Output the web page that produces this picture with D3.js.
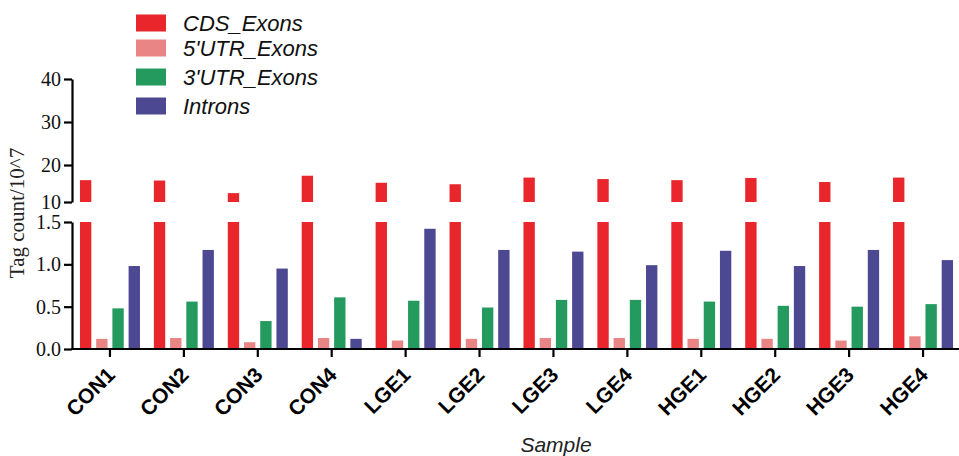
<!DOCTYPE html>
<html>
<head>
<meta charset="utf-8">
<script src="https://cdn.jsdelivr.net/npm/d3@7"></script>
<style>
  html, body { margin: 0; padding: 0; background: #fff; }
  svg { display: block; }
</style>
</head>
<body>
<svg id="chart" width="959" height="456"></svg>
<script>
// ---------- data ----------
const samples = ["CON1","CON2","CON3","CON4","LGE1","LGE2","LGE3","LGE4","HGE1","HGE2","HGE3","HGE4"];
const seriesNames = ["CDS_Exons","5'UTR_Exons","3'UTR_Exons","Introns"];
const cdsExons   = [15.9, 15.8, 12.4, 17.1, 15.2, 14.8, 16.6, 16.2, 15.9, 16.5, 15.4, 16.6];
const utr5Exons  = [0.12, 0.13, 0.08, 0.13, 0.10, 0.12, 0.13, 0.13, 0.12, 0.12, 0.10, 0.15];
const utr3Exons  = [0.48, 0.56, 0.33, 0.61, 0.57, 0.49, 0.58, 0.58, 0.56, 0.51, 0.50, 0.53];
const introns    = [0.98, 1.17, 0.95, 0.12, 1.42, 1.17, 1.15, 0.99, 1.16, 0.98, 1.17, 1.05];
const upperTicks = [10, 20, 30, 40];
const lowerTicks = [0, 0.5, 1.0, 1.5];
const colors = ["#E8262B", "#E98584", "#249A5E", "#4C4892"];

const seriesValues = [cdsExons, utr5Exons, utr3Exons, introns];

// ---------- layout ----------
const svg = d3.select("#chart");
const axisX = 72;
const x = d3.scaleBand().domain(samples).range([73, 960]).padding(0);
const xi = d3.scaleBand().domain(seriesNames).range([-30, 30]).paddingInner(0.3).paddingOuter(0);
const yLow = d3.scaleLinear().domain([0, 1.5]).range([349, 222]);
const yUp = d3.scaleLinear().domain([10, 20, 40]).range([202, 165, 79]);
const lowMax = 1.5, upMin = 10;

// ---------- bars ----------
const bars = [];
samples.forEach((s, i) => {
  seriesNames.forEach((n, j) => {
    bars.push({ sample: s, series: n, j, v: seriesValues[j][i] });
  });
});

const g = svg.append("g");
bars.forEach(d => {
  const bx = x(d.sample) + x.bandwidth() / 2 + xi(d.series);
  const vLow = Math.min(d.v, lowMax);
  g.append("rect")
    .attr("x", bx).attr("width", xi.bandwidth())
    .attr("y", yLow(vLow)).attr("height", yLow(0) - yLow(vLow))
    .attr("fill", colors[d.j]);
  if (d.v > upMin) {
    g.append("rect")
      .attr("x", bx).attr("width", xi.bandwidth())
      .attr("y", yUp(d.v)).attr("height", yUp(upMin) - yUp(d.v))
      .attr("fill", colors[d.j]);
  }
});

// ---------- axes ----------
const styleAxis = sel => {
  sel.selectAll(".domain").attr("stroke", "#000").attr("stroke-width", 2.2);
  sel.selectAll(".tick line").attr("stroke", "#000").attr("stroke-width", 2.2);
};

const ayUp = svg.append("g").attr("transform", `translate(${axisX},0)`)
  .call(d3.axisLeft(yUp).tickValues(upperTicks).tickSize(8).tickSizeOuter(0).tickPadding(3).tickFormat(d3.format("d")));
const ayLow = svg.append("g").attr("transform", `translate(${axisX},0)`)
  .call(d3.axisLeft(yLow).tickValues(lowerTicks).tickSize(8).tickSizeOuter(0).tickPadding(3).tickFormat(d3.format(".1f")));
[ayUp, ayLow].forEach(a => {
  styleAxis(a);
  a.selectAll("text").attr("font-family", "'Liberation Serif', 'Times New Roman', serif")
    .attr("font-size", 20).attr("fill", "#111");
});

const ax = svg.append("g").attr("transform", `translate(0,${yLow(0)})`)
  .call(d3.axisBottom(x).tickSize(8).tickSizeOuter(0).tickFormat(""));
styleAxis(ax);
ax.select(".domain").attr("d", `M${axisX - 1},0H959`);

// x tick labels, rotated
svg.append("g").selectAll("text").data(samples).join("text")
  .attr("transform", d => `translate(${x(d) + x.bandwidth() / 2 + 1},${yLow(0) + 22}) rotate(-45)`)
  .attr("text-anchor", "end")
  .attr("dy", "0.35em")
  .attr("font-family", "'Liberation Sans', Arial, sans-serif")
  .attr("font-weight", "bold")
  .attr("font-size", 21)
  .attr("fill", "#000")
  .text(d => d);

// axis titles
svg.append("text")
  .attr("transform", `translate(24,213) rotate(-90)`)
  .attr("text-anchor", "middle")
  .attr("font-family", "'Liberation Serif', 'Times New Roman', serif")
  .attr("font-size", 21)
  .attr("fill", "#222")
  .text("Tag count/10^7");

svg.append("text")
  .attr("x", 556).attr("y", 452)
  .attr("text-anchor", "middle")
  .attr("font-family", "'Liberation Sans', Arial, sans-serif")
  .attr("font-style", "italic")
  .attr("font-size", 21)
  .attr("fill", "#222")
  .text("Sample");

// ---------- legend ----------
const legendY = [23, 48, 77, 106];
const leg = svg.append("g");
seriesNames.forEach((n, j) => {
  leg.append("rect").attr("x", 136).attr("y", legendY[j] - 8.5).attr("width", 30).attr("height", 17)
    .attr("fill", colors[j]);
  leg.append("text").attr("x", 183).attr("y", legendY[j]).attr("dy", "0.36em")
    .attr("font-family", "'Liberation Sans', Arial, sans-serif")
    .attr("font-style", "italic")
    .attr("font-size", 22)
    .attr("fill", "#111")
    .text(n);
});
</script>
</body>
</html>
